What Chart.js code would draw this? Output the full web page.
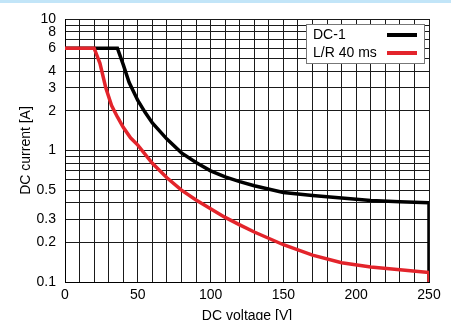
<!DOCTYPE html>
<html>
<head>
<meta charset="utf-8">
<script src="https://cdn.jsdelivr.net/npm/chart.js@4"></script>
<style>
  html, body { margin: 0; padding: 0; background: #fff; }
  #wrap { position: relative; width: 451px; height: 320px; }
</style>
</head>
<body>
<div id="wrap"><canvas id="chart" width="451" height="320"></canvas></div>
<script>
// DC-1 curve (V, A)
const dc1Volts = [0, 36, 40, 44, 50, 55, 60, 70, 80, 90, 100, 110, 120, 130, 150, 170, 190, 210, 230, 250, 250];
const dc1Amps = [6, 6, 4.5, 3.3, 2.4, 1.95, 1.62, 1.22, 0.96, 0.81, 0.7, 0.63, 0.58, 0.54, 0.48, 0.455, 0.435, 0.417, 0.407, 0.4, 0.1];

// L/R 40 ms curve (V, A)
const lrVolts = [0, 20, 24, 28, 32, 36, 40, 45, 50, 60, 70, 80, 90, 100, 110, 120, 130, 150, 170, 190, 210, 230, 250, 250];
const lrAmps = [6, 6, 4.6, 3.0, 2.2, 1.8, 1.5, 1.25, 1.1, 0.8, 0.62, 0.5, 0.42, 0.36, 0.31, 0.272, 0.24, 0.192, 0.16, 0.14, 0.13, 0.124, 0.118, 0.1];

const seriesNames = ['DC-1', 'L/R 40 ms'];
const seriesColors = ['#000000', '#e3242b'];

const yGridValues = [0.1, 0.2, 0.3, 0.4, 0.5, 0.6, 0.7, 0.8, 0.9, 1, 2, 3, 4, 5, 6, 7, 8, 9, 10];
const yLabelValues = [0.1, 0.2, 0.3, 0.5, 1, 2, 3, 4, 6, 8, 10];
const xLabelValues = [0, 50, 100, 150, 200, 250];

const FONT = "'Liberation Sans', Arial, Helvetica, sans-serif";

const toPoints = (xs, ys) => xs.map((x, i) => ({ x: x, y: ys[i] }));

// top blue strip + white background
const backdrop = {
  id: 'backdrop',
  beforeDraw(chart) {
    const c = chart.ctx;
    c.save();
    c.fillStyle = '#fff';
    c.fillRect(0, 0, chart.width, chart.height);
    c.fillStyle = '#c2e5f8';
    c.fillRect(0, 0, chart.width, 3);
    c.restore();
  }
};

// legend box top right, text first and line sample after
const boxLegend = {
  id: 'boxLegend',
  afterDraw(chart) {
    const c = chart.ctx;
    const x0 = 306, y0 = 24, w = 118, h = 39;
    c.save();
    c.fillStyle = '#fff';
    c.fillRect(x0, y0, w, h);
    c.strokeStyle = '#777';
    c.lineWidth = 1;
    c.strokeRect(x0 + 0.5, y0 + 0.5, w, h);
    c.font = '14px ' + FONT;
    c.textBaseline = 'middle';
    c.textAlign = 'left';
    seriesNames.forEach((name, i) => {
      const y = y0 + 11 + i * 18;
      c.fillStyle = '#000';
      c.fillText(name, x0 + 7, y);
      c.strokeStyle = seriesColors[i];
      c.lineWidth = 4;
      c.beginPath();
      c.moveTo(x0 + 81, y);
      c.lineTo(x0 + 111, y);
      c.stroke();
    });
    c.restore();
  }
};

new Chart(document.getElementById('chart'), {
  type: 'line',
  data: {
    datasets: [
      {
        label: seriesNames[1],
        data: toPoints(lrVolts, lrAmps),
        borderColor: seriesColors[1],
        borderWidth: 3.5,
        pointRadius: 0,
        tension: 0,
        fill: false
      },
      {
        label: seriesNames[0],
        data: toPoints(dc1Volts, dc1Amps),
        borderColor: seriesColors[0],
        borderWidth: 3.5,
        pointRadius: 0,
        tension: 0,
        fill: false
      }
    ]
  },
  options: {
    responsive: false,
    animation: false,
    devicePixelRatio: 1,
    layout: { padding: { left: 0, top: 19, right: 22, bottom: 0 } },
    plugins: {
      legend: { display: false },
      tooltip: { enabled: false }
    },
    scales: {
      x: {
        type: 'linear',
        min: 0,
        max: 250,
        afterFit(s) { s.height = 38; },
        grid: { color: '#1a1a1a', lineWidth: 1, drawTicks: false },
        border: { color: '#000', width: 1 },
        ticks: {
          stepSize: 10,
          autoSkip: false,
          maxRotation: 0,
          padding: 5,
          color: '#000',
          font: { family: FONT, size: 14 },
          callback: v => xLabelValues.includes(v) ? String(v) : ''
        },
        title: {
          display: true,
          text: 'DC voltage [V]',
          color: '#000',
          font: { family: FONT, size: 14, lineHeight: 0.6 },
          padding: { top: 0, bottom: 0 }
        }
      },
      y: {
        type: 'logarithmic',
        min: 0.1,
        max: 10,
        afterFit(s) { s.width = 65; },
        afterBuildTicks(s) { s.ticks = yGridValues.map(v => ({ value: v })); },
        grid: { color: '#1a1a1a', lineWidth: 1, drawTicks: false },
        border: { color: '#000', width: 1 },
        ticks: {
          autoSkip: false,
          padding: 9,
          color: '#000',
          font: { family: FONT, size: 14 },
          callback: v => yLabelValues.includes(v) ? String(v) : ''
        },
        title: {
          display: true,
          text: 'DC current [A]',
          color: '#000',
          font: { family: FONT, size: 14, lineHeight: 1 },
          padding: { top: 19, bottom: 0 }
        }
      }
    }
  },
  plugins: [backdrop, boxLegend]
});
</script>
</body>
</html>
